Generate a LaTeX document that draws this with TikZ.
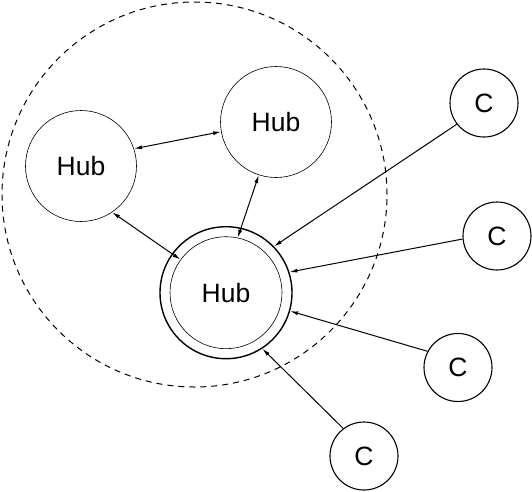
\documentclass[tikz,border=0pt]{standalone}
\usepackage{fontspec}
\setmainfont{Liberation Sans}
\usepackage{tikz}
\usetikzlibrary{arrows.meta, positioning}
\tikzset{
    hub/.style={circle, draw=black, line width=0.6pt, minimum size=111pt, inner sep=0pt, font=\fontsize{26.5}{30}\selectfont},
    core/.style={circle, draw=black, line width=0.6pt, minimum size=112pt, inner sep=0pt, font=\fontsize{26.5}{30}\selectfont},
    ring/.style={circle, draw=black, line width=1.4pt, minimum size=132pt, inner sep=0pt},
    client/.style={circle, draw=black, line width=1.1pt, minimum size=68pt, inner sep=0pt, font=\fontsize{26.5}{30}\selectfont},
    zone/.style={circle, draw=black, line width=1pt, dash pattern=on 6pt off 5pt, minimum size=385pt, inner sep=0pt},
    link/.style={{Latex[length=8pt,width=4pt]}-{Latex[length=8pt,width=4pt]}, line width=1pt},
    arrow/.style={-{Latex[length=8pt,width=4pt]}, line width=1pt}
}

\begin{document}
\begin{tikzpicture}[x=1pt, y=-1pt]
    \useasboundingbox (0,0) rectangle (532,491);

    % Dashed zone
    \node[zone] (hubZone) at (194.5,194.5) {};

    % Hubs
    \node[hub] (hubL) at (81,166) {Hub};
    \node[hub] (hubT) at (276,122) {Hub};
    \node[core] (hubC) at (226,292.7) {Hub};
    \node[ring] (ringC) at (hubC.center) {};

    % Clients
    \node[client] (c1) at (484,103) {C};
    \node[client] (c2) at (497,236) {C};
    \node[client] (c3) at (458,367.5) {C};
    \node[client] (c4) at (364,456) {C};

    % Hub links
    \draw[link] (hubL.18) -- (hubT.190);
    \draw[link] (hubL.-56) -- (hubC.144);
    \draw[link] (hubT.252) -- (hubC.78);

    % Client links
    \draw[arrow] (c1.218) -- (ringC.44);
    \draw[arrow] (c2.185) -- (ringC.18);
    \draw[arrow] (c3.152) -- (ringC.-16);
    \draw[arrow] (c4.127) -- (ringC.-57);

\end{tikzpicture}
\end{document}
